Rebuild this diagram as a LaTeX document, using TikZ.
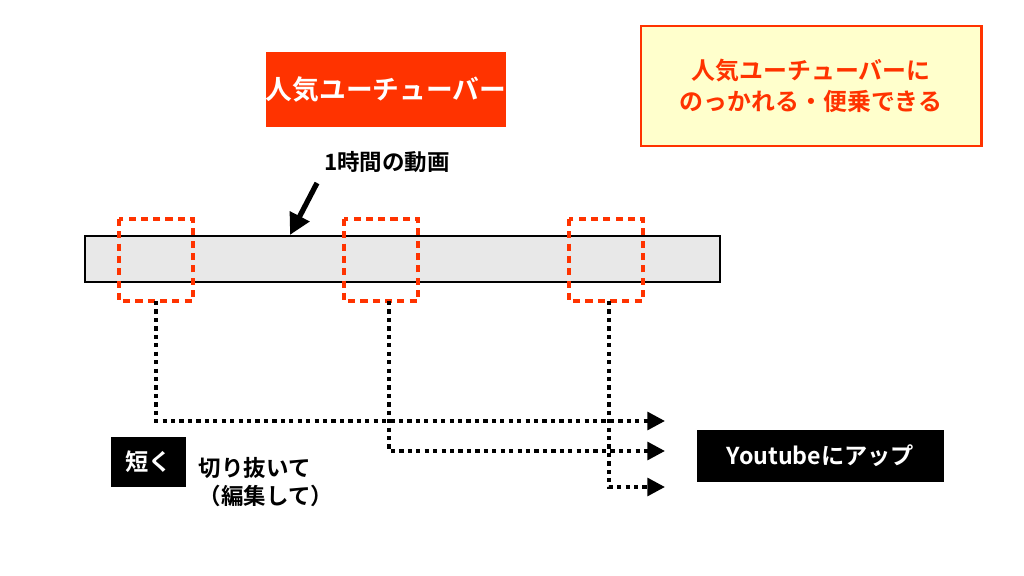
\documentclass[tikz,border=0pt]{standalone}
\usepackage{fontspec}
\setmainfont{Noto Sans CJK JP}[BoldFont={* Bold}]
\usetikzlibrary{arrows.meta}
\definecolor{hot}{HTML}{FF3300}
\definecolor{pale}{HTML}{FFFFCC}
\tikzset{
  cut/.style={draw=hot,dashed,line width=0.9pt,dash pattern=on 2pt off 1.5pt},
  flow/.style={line width=1.1pt,dash pattern=on 1.2pt off 1.2pt,-{Triangle[length=5pt,width=5pt]}},
  blk/.style={fill=black,text=white,font=\bfseries\fontsize{6.6pt}{7pt}\selectfont,inner sep=0pt},
  lbl/.style={font=\bfseries\fontsize{6.4pt}{8pt}\selectfont,inner sep=0pt}
}
\begin{document}
\begin{tikzpicture}[x=0.01cm,y=-0.01cm]
\useasboundingbox (0,0) rectangle (1024,576);
\fill[white] (0,0) rectangle (1024,576);
\node[blk,fill=hot,minimum width=2.16cm,minimum height=0.75cm,font=\bfseries\fontsize{7.6pt}{8pt}\selectfont] (title) at (386,89.5) {人気ユーチューバー};
\node[draw=hot,fill=pale,line width=0.8pt,minimum width=3.4cm,minimum height=1.2cm,text=hot,align=center,font=\bfseries\fontsize{6.8pt}{9pt}\selectfont] (note) at (811,86) {人気ユーチューバーに\\のっかれる・便乗できる};
\node[lbl] (hour) at (387,162) {1時間の動画};
\draw[fill=black!9,line width=0.8pt] (85,236) rectangle (720,282);
\coordinate (bar) at (290,235);
\coordinate (arrs) at (317,183);
\draw[line width=1.5pt,-{Triangle[length=6pt,width=6pt]}] (arrs) -- (bar);
\foreach \x/\n in {119/a,344/b,569/c}{
  \draw[cut] (\x,219) rectangle ++(74,82);
}
\coordinate (a) at (156,301); \coordinate (b) at (389,301); \coordinate (c) at (609,301);
\coordinate (ae) at (665,421); \coordinate (be) at (665,451); \coordinate (ce) at (665,487);
\draw[flow] (a) |- (ae);
\draw[flow] (b) |- (be);
\draw[flow] (c) |- (ce);
\node[blk,minimum width=0.75cm,minimum height=0.5cm] (short) at (148.5,462) {短く};
\node[lbl,align=left,anchor=north west] (edit) at (198,457) {切り抜いて\\（編集して）};
\node[blk,minimum width=2.47cm,minimum height=0.52cm] (yt) at (820.5,456) {Youtubeにアップ};
\end{tikzpicture}
\end{document}
